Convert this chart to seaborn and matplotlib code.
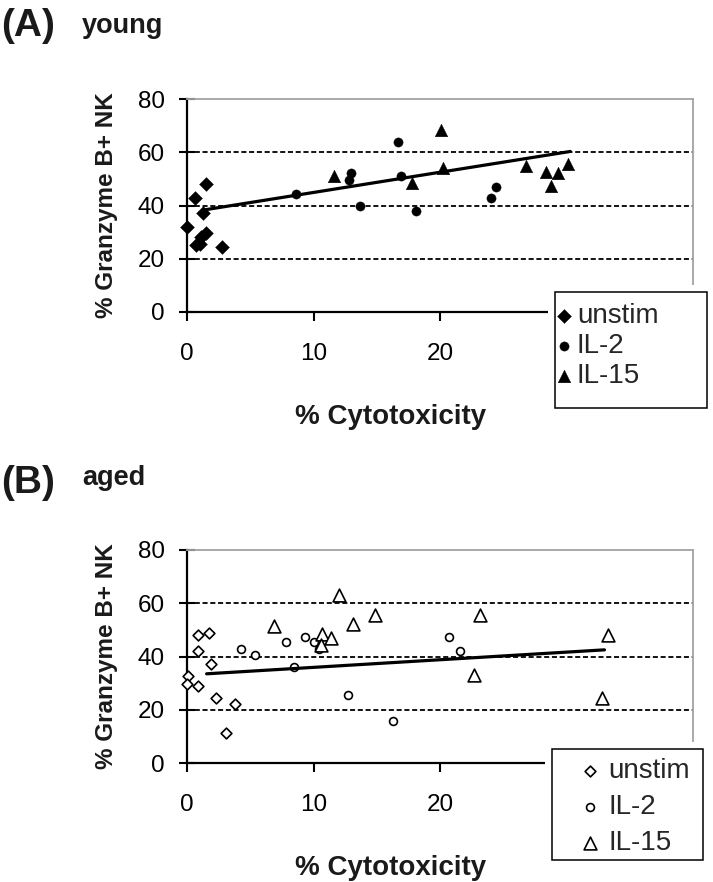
import numpy as np
import pandas as pd
import matplotlib
matplotlib.use("Agg")
import matplotlib.pyplot as plt
import seaborn as sns
from matplotlib.patches import Rectangle

sns.set_theme(style="white")
plt.rcParams["font.family"] = ["Liberation Sans", "DejaVu Sans"]

# ---------------- data ----------------
groups = ["unstim", "IL-2", "IL-15"]
y_ticks = [0, 20, 40, 60, 80]
x_ticks = [0, 10, 20, 30, 40]

# (A) young
young_unstim_x = [0.0, 0.6, 1.5, 1.3, 1.5, 1.1, 0.7, 1.0, 2.8]
young_unstim_y = [32, 43, 48, 37, 29.5, 28, 25, 25.5, 24.5]
young_il2_x = [8.6, 13.0, 12.8, 13.7, 16.7, 16.9, 18.1, 24.4, 24.0]
young_il2_y = [44.2, 52.1, 49.4, 39.8, 63.7, 50.9, 38.1, 47.1, 42.7]
young_il15_x = [11.6, 20.1, 20.2, 17.8, 26.8, 28.4, 29.3, 28.8, 30.1]
young_il15_y = [50.9, 68.2, 54.0, 48.4, 54.9, 52.7, 52.1, 47.4, 55.4]
young_trend_x = [1.3, 30.3]
young_trend_y = [38.3, 60.3]

# (B) aged
aged_unstim_x = [0.1, 0.0, 0.9, 0.9, 0.9, 1.7, 1.9, 2.3, 3.8, 3.1]
aged_unstim_y = [32.8, 29.7, 29.1, 41.9, 48.1, 49.0, 37.1, 24.3, 22.2, 11.2]
aged_il2_x = [4.25, 5.4, 7.8, 8.45, 9.3, 10.05, 10.4, 12.7, 16.3, 20.7, 21.55]
aged_il2_y = [42.7, 40.6, 45.5, 36.2, 47.2, 45.5, 42.7, 25.6, 15.8, 47.2, 42.2]
aged_il15_x = [6.9, 12.0, 13.15, 14.9, 10.7, 11.4, 10.6, 23.2, 22.7, 33.3, 32.8]
aged_il15_y = [51.5, 63.2, 52.1, 55.4, 48.4, 47.1, 44.4, 55.4, 33.1, 47.9, 24.5]
aged_trend_x = [1.55, 33.0]
aged_trend_y = [33.5, 42.5]

# ---------------- layout ----------------
W, H = 713, 882
fig = plt.figure(figsize=(W / 100, H / 100), dpi=100)


def fx(px):
    return px / W


def fy(py):
    return 1 - py / H


panels = [
    dict(tag="(A)", name="young", top=99, bottom=312,
         xs=[young_unstim_x, young_il2_x, young_il15_x],
         ys=[young_unstim_y, young_il2_y, young_il15_y],
         tx=young_trend_x, ty=young_trend_y, filled=True,
         tag_base=36, name_base=33,
         leg_box=(555, 292, 707, 408), leg_anchor=(556, 303),
         leg_kw=dict(handlelength=0.6, handletextpad=0.15, labelspacing=0.15)),
    dict(tag="(B)", name="aged", top=550, bottom=763,
         xs=[aged_unstim_x, aged_il2_x, aged_il15_x],
         ys=[aged_unstim_y, aged_il2_y, aged_il15_y],
         tx=aged_trend_x, ty=aged_trend_y, filled=False,
         tag_base=493, name_base=485,
         leg_box=(552, 749, 703, 860), leg_anchor=(582, 758),
         leg_kw=dict(handlelength=0.6, handletextpad=0.35, labelspacing=0.36)),
]

markers = {"unstim": "D", "IL-2": "o", "IL-15": "^"}
sizes_filled = {"unstim": 50, "IL-2": 44, "IL-15": 82}
sizes_open = {"unstim": 30, "IL-2": 32, "IL-15": 85}

for p in panels:
    ax = fig.add_axes([fx(187), fy(p["bottom"]), fx(693) - fx(187),
                       (p["bottom"] - p["top"]) / H])
    rows = []
    for g, xv, yv in zip(groups, p["xs"], p["ys"]):
        for a, b in zip(xv, yv):
            rows.append({"x": a, "y": b, "group": g})
    df = pd.DataFrame(rows)

    for g in groups:
        sub = df[df["group"] == g]
        if p["filled"]:
            sns.scatterplot(data=sub, x="x", y="y", ax=ax, marker=markers[g],
                            s=sizes_filled[g], color="black", edgecolor="black",
                            linewidth=0.3, label=g, zorder=3, legend=False,
                            clip_on=False)
        else:
            sns.scatterplot(data=sub, x="x", y="y", ax=ax, marker=markers[g],
                            s=sizes_open[g], color="white", edgecolor="black",
                            linewidth=1.2, label=g, zorder=3, legend=False,
                            clip_on=False)

    sns.lineplot(x=p["tx"], y=p["ty"], ax=ax, color="black", linewidth=2.3,
                 zorder=4, legend=False)

    ax.set_xlim(0, 40)
    ax.set_ylim(0, 80)
    ax.set_xticks(x_ticks)
    ax.set_yticks(y_ticks)
    ax.set_xticklabels([str(v) for v in x_ticks])
    ax.set_yticklabels([str(v) for v in y_ticks])
    ax.tick_params(axis="y", direction="inout", length=12, width=1.5,
                   pad=10, labelsize=17.5, colors="black", left=True)
    ax.tick_params(axis="x", direction="out", length=6.5, width=1.5,
                   pad=16, labelsize=17.5, colors="black", bottom=True)

    ax.yaxis.grid(True, color="black", linewidth=1.3, linestyle=(0, (2.8, 1.5)))
    ax.xaxis.grid(False)
    ax.set_axisbelow(True)
    gl = ax.get_ygridlines()
    gl[0].set_visible(False)
    gl[-1].set_visible(False)

    for s in ["left", "bottom"]:
        ax.spines[s].set_color("black")
        ax.spines[s].set_linewidth(1.6)
    for s in ["top", "right"]:
        ax.spines[s].set_color("#a3a3a3")
        ax.spines[s].set_linewidth(1.3)

    ax.set_xlabel("% Cytotoxicity", fontsize=20, fontweight="bold", color="#1a1a1a")
    ax.set_ylabel("% Granzyme B+ NK", fontsize=17.5, fontweight="bold", color="#1a1a1a")
    ax.xaxis.set_label_coords((391 - 187) / 506, -0.43)
    ax.yaxis.set_label_coords((118 - 187) / 506, 0.5)

    # legend box (white margin + frame)
    x0, y0, x1, y1 = p["leg_box"]
    m = 7
    fig.add_artist(Rectangle((fx(x0 - m), fy(y1 + m)), (x1 - x0 + 2 * m) / W,
                             (y1 - y0 + 2 * m) / H, transform=fig.transFigure,
                             facecolor="white", edgecolor="none", zorder=4))
    fig.add_artist(Rectangle((fx(x0), fy(y1)), (x1 - x0) / W, (y1 - y0) / H,
                             transform=fig.transFigure, facecolor="white",
                             edgecolor="black", linewidth=1.1, zorder=4.5))
    handles, labels = ax.get_legend_handles_labels()
    handles, labels = handles[:3], labels[:3]
    leg = fig.legend(handles, labels, loc="upper left",
                     bbox_to_anchor=(fx(p["leg_anchor"][0]), fy(p["leg_anchor"][1])),
                     bbox_transform=fig.transFigure, frameon=False, fontsize=20,
                     borderpad=0, borderaxespad=0, **p["leg_kw"])
    leg.set_zorder(5)

    fig.text(fx(1), fy(p["tag_base"]), p["tag"], fontsize=28, fontweight="bold",
             va="baseline", ha="left", color="#1a1a1a")
    fig.text(fx(82), fy(p["name_base"]), p["name"], fontsize=19.5, fontweight="bold",
             va="baseline", ha="left", color="#1a1a1a")

fig.savefig("out.png", dpi=100)
